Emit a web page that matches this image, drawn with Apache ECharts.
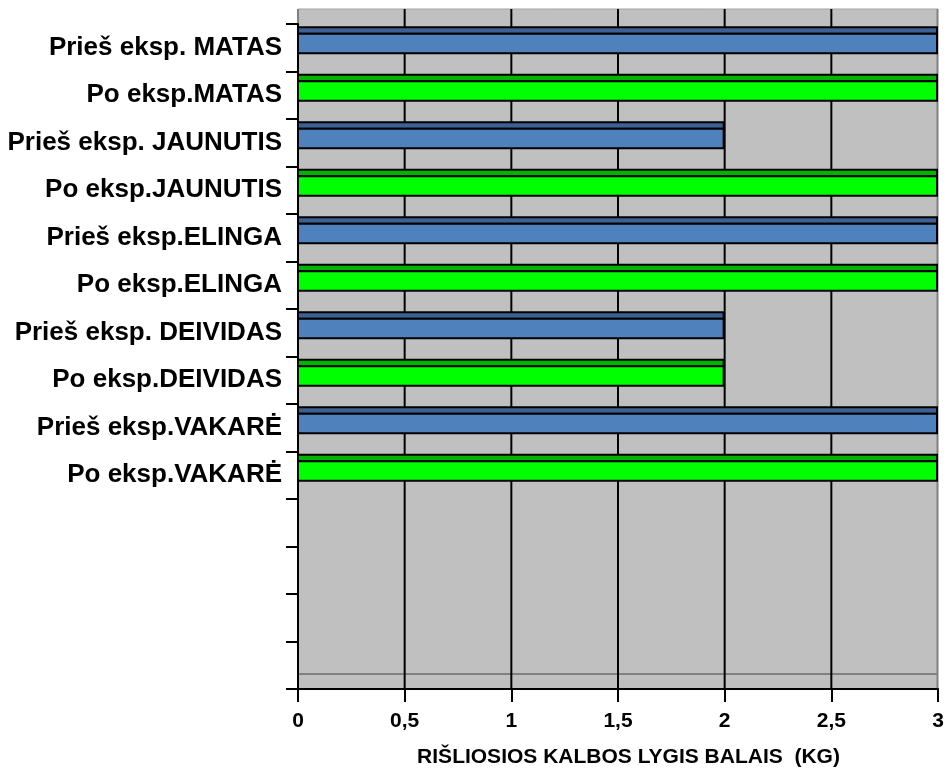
<!DOCTYPE html>
<html>
<head>
<meta charset="utf-8">
<script src="https://cdn.jsdelivr.net/npm/echarts@6/dist/echarts.min.js"></script>
<style>
  html, body { margin: 0; padding: 0; background: #ffffff; }
  #chart { width: 948px; height: 778px; }
</style>
</head>
<body>
<div id="chart"></div>
<script>
// Category labels, top to bottom; the last four rows are empty slots on the axis.
const categories = [
  'Prieš eksp. MATAS', 'Po eksp.MATAS',
  'Prieš eksp. JAUNUTIS', 'Po eksp.JAUNUTIS',
  'Prieš eksp.ELINGA', 'Po eksp.ELINGA',
  'Prieš eksp. DEIVIDAS', 'Po eksp.DEIVIDAS',
  'Prieš eksp.VAKARĖ', 'Po eksp.VAKARĖ',
  ' ', '  ', '   ', '    '
];
// Scores before the experiment (rows 0,2,4,6,8) and after it (rows 1,3,5,7,9)
const scoresBefore = [3, 2, 3, 2, 3];
const scoresAfter = [3, 3, 3, 2, 3];
const xTicks = [0, 0.5, 1, 1.5, 2, 2.5, 3];
const axisTitle = 'RIŠLIOSIOS KALBOS LYGIS BALAIS  (KG)';

const FONT = '"Liberation Sans", Arial, sans-serif';
const DEPTH = 0.316; // 3D depth as a fraction of the row height

const beforeData = scoresBefore.map((v, k) => [v, k * 2]);
const afterData = scoresAfter.map((v, k) => [v, k * 2 + 1]);

// Bar drawn as a front face with a darker top strip
function barRenderer(frontColor, topColor) {
  return function (params, api) {
    const v = api.value(0);
    const idx = api.value(1);
    const c = api.coord([v, idx]);
    const c0 = api.coord([0, idx]);
    const band = api.size([0, 1])[1];
    const t = c[1] - band / 2;
    const y1 = t + band * 0.07;
    const y2 = t + band * 0.205;
    const y3 = t + band * 0.615;
    const x0 = c0[0];
    const w = c[0] - x0 - 1;
    return {
      type: 'group',
      children: [
        { type: 'rect', shape: { x: x0, y: y1, width: w, height: y2 - y1 },
          style: { fill: topColor, stroke: '#000', lineWidth: 2 } },
        { type: 'rect', shape: { x: x0, y: y2, width: w, height: y3 - y2 },
          style: { fill: frontColor, stroke: '#000', lineWidth: 2 } }
      ]
    };
  };
}

// Back wall, floor edge and vertical grid lines
function wallRenderer(params, api) {
  const n = categories.length;
  const band = api.size([0, 1])[1];
  const depth = band * DEPTH;
  const yTop = api.coord([0, 0])[1] - band / 2;
  const yBottom = api.coord([0, n - 1])[1] + band / 2;
  const x0 = api.coord([xTicks[0], 0])[0];
  const x3 = api.coord([xTicks[xTicks.length - 1], 0])[0];
  const children = [
    { type: 'rect', shape: { x: x0, y: yTop - depth, width: x3 - x0, height: yBottom - yTop + depth },
      style: { fill: '#c0c0c0' } },
    { type: 'line', shape: { x1: x0, y1: yBottom - depth, x2: x3, y2: yBottom - depth },
      style: { stroke: '#808080', lineWidth: 2 } },
    { type: 'line', shape: { x1: x0, y1: yTop - depth, x2: x3, y2: yTop - depth },
      style: { stroke: '#a8a8a8', lineWidth: 1 } },
    { type: 'line', shape: { x1: x0, y1: yTop - depth, x2: x0, y2: yTop },
      style: { stroke: '#808080', lineWidth: 2 } },
    { type: 'line', shape: { x1: x3 - 0.5, y1: yTop - depth, x2: x3 - 0.5, y2: yBottom },
      style: { stroke: '#808080', lineWidth: 2 } }
  ];
  xTicks.slice(1, -1).forEach(function (tv) {
    const x = api.coord([tv, 0])[0];
    children.push({ type: 'line', shape: { x1: x, y1: yTop - depth, x2: x, y2: yBottom },
      style: { stroke: '#000', lineWidth: 2 } });
  });
  return { type: 'group', children: children };
}

const chart = echarts.init(document.getElementById('chart'), null, { renderer: 'canvas' });
chart.setOption({
  backgroundColor: '#ffffff',
  animation: false,
  grid: { left: 298, right: 10, top: 24, bottom: 89, containLabel: false },
  xAxis: {
    type: 'value',
    min: 0, max: 3, interval: 0.5,
    name: axisTitle,
    nameLocation: 'middle',
    nameGap: 58,
    nameTextStyle: { fontFamily: FONT, fontWeight: 'bold', fontSize: 21, color: '#000', padding: [0, 0, 0, 21] },
    axisLine: { show: true, onZero: false, lineStyle: { color: '#000', width: 2 } },
    axisTick: { show: true, length: 13, lineStyle: { color: '#000', width: 2 } },
    axisLabel: {
      margin: 22,
      fontFamily: FONT, fontWeight: 'bold', fontSize: 21, color: '#000',
      formatter: function (v) { return String(v).replace('.', ','); }
    },
    splitLine: { show: false }
  },
  yAxis: {
    type: 'category',
    inverse: true,
    data: categories,
    axisLine: { show: true, lineStyle: { color: '#000', width: 2 } },
    axisTick: { show: true, length: 12, lineStyle: { color: '#000', width: 2 } },
    axisLabel: {
      margin: 16, interval: 0,
      fontFamily: FONT, fontWeight: 'bold', fontSize: 26, color: '#000'
    },
    splitLine: { show: false }
  },
  series: [
    {
      type: 'custom', name: 'wall', z: 0, silent: true, clip: false,
      renderItem: wallRenderer,
      data: [[0, 0]],
      encode: { x: 0, y: 1 }
    },
    {
      type: 'custom', name: 'Prieš eksp.', z: 3, clip: false,
      renderItem: barRenderer('#4f81bd', '#3d6192'),
      data: beforeData,
      encode: { x: 0, y: 1 }
    },
    {
      type: 'custom', name: 'Po eksp.', z: 3, clip: false,
      renderItem: barRenderer('#00ff00', '#00b400'),
      data: afterData,
      encode: { x: 0, y: 1 }
    }
  ]
});
</script>
</body>
</html>
